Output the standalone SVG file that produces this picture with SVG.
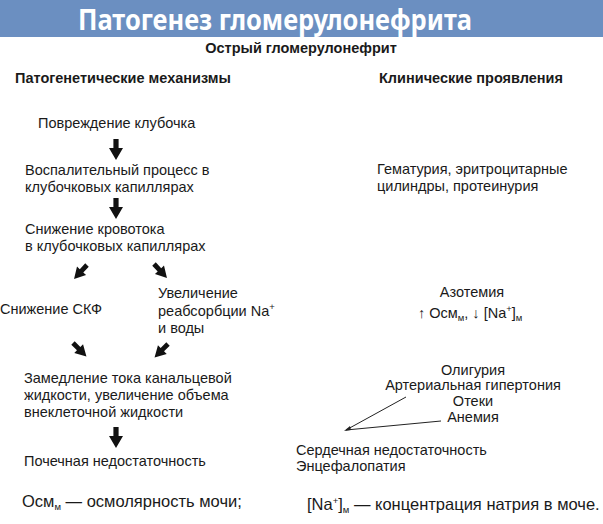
<svg xmlns="http://www.w3.org/2000/svg" width="603" height="524" viewBox="0 0 603 524">
<style>
.t{font-family:"Liberation Sans",Arial,sans-serif;font-size:14.5px;fill:#1a1a1a}
.h{font-family:"Liberation Sans",Arial,sans-serif;font-size:14.5px;font-weight:bold;fill:#1a1a1a}
.lg{font-size:16.5px}
.ttl{font-family:"Noto Sans","DejaVu Sans",sans-serif;font-size:28px;font-weight:bold;fill:#ffffff}
.sub{font-size:9.5px}
.ln{stroke:#222;stroke-width:1;fill:none}
</style>
<defs>
<path id="arr" d="M-2.6,0 H2.6 V9 H7 L0,21 L-7,9 H-2.6 Z" fill="#111"/>
<path id="darr" d="M-2.4,0 H2.4 V8 H6.2 L0,19 L-6.2,8 H-2.4 Z" fill="#111"/>
</defs>
<rect x="0" y="0" width="603" height="37" fill="#6b8fc1"/>
<text class="ttl" x="78" y="30" textLength="394" lengthAdjust="spacingAndGlyphs">Патогенез гломерулонефрита</text>
<text class="h" x="301" y="53" text-anchor="middle">Острый гломерулонефрит</text>
<text class="h" x="15" y="83">Патогенетические механизмы</text>
<text class="h" x="379" y="83">Клинические проявления</text>

<g id="n1"><text class="t" x="38" y="128">Повреждение клубочка</text></g>
<g id="n2"><text class="t" x="25" y="175">Воспалительный процесс в</text><text class="t" x="25" y="192">клубочковых капиллярах</text></g>
<g id="n3"><text class="t" x="25" y="234">Снижение кровотока</text><text class="t" x="25" y="251">в клубочковых капиллярах</text></g>
<g id="n4"><text class="t" x="0" y="314">Снижение СКФ</text></g>
<g id="n5"><text class="t" x="158" y="298">Увеличение</text><text class="t" x="158" y="316">реабсорбции Na<tspan class="sub" dy="-6">+</tspan></text><text class="t" x="158" y="333">и воды</text></g>
<g id="n6"><text class="t" x="24" y="383">Замедление тока канальцевой</text><text class="t" x="24" y="400">жидкости, увеличение объема</text><text class="t" x="24" y="417">внеклеточной жидкости</text></g>
<g id="n7"><text class="t" x="24" y="466">Почечная недостаточность</text></g>

<g id="c1"><text class="t" x="377" y="174">Гематурия, эритроцитарные</text><text class="t" x="377" y="191">цилиндры, протеинурия</text></g>
<g id="c2"><text class="t" x="472" y="297" text-anchor="middle">Азотемия</text><text class="t" x="418" y="318">↑ Осм<tspan class="sub" dy="3">м</tspan><tspan dy="-3">, ↓ [Na</tspan><tspan class="sub" dy="-6">+</tspan><tspan dy="6">]</tspan><tspan class="sub" dy="3">м</tspan></text></g>
<g id="c3"><text class="t" x="473" y="375" text-anchor="middle">Олигурия</text><text class="t" x="473" y="390" text-anchor="middle">Артериальная гипертония</text><text class="t" x="473" y="406" text-anchor="middle">Отеки</text><text class="t" x="473" y="422" text-anchor="middle">Анемия</text></g>
<g id="c4"><text class="t" x="296" y="455">Сердечная недостаточность</text><text class="t" x="296" y="471">Энцефалопатия</text></g>

<g id="legend">
<text class="t lg" x="22" y="507">Осм<tspan class="sub" dy="3">м</tspan><tspan dy="-3"> — осмолярность мочи;</tspan></text>
<text class="t lg" x="307" y="510">[Na<tspan class="sub" dy="-6">+</tspan><tspan dy="6">]</tspan><tspan class="sub" dy="3">м</tspan><tspan dy="-3"> — концентрация натрия в моче.</tspan></text>
</g>

<g id="connectors">
<use href="#arr" transform="translate(116,139)"/>
<use href="#arr" transform="translate(116,198)"/>
<use href="#darr" transform="translate(87,265) rotate(43)"/>
<use href="#darr" transform="translate(154,264) rotate(-43)"/>
<use href="#darr" transform="translate(73,343) rotate(-45)"/>
<use href="#darr" transform="translate(168,344) rotate(45)"/>
<use href="#arr" transform="translate(116,427)"/>
<line class="ln" x1="346" y1="430" x2="406" y2="397"/>
<line class="ln" x1="346" y1="430" x2="441" y2="421"/>
<path d="M344,431 L350,426 L351,430 Z" fill="#222"/>
</g>
</svg>
